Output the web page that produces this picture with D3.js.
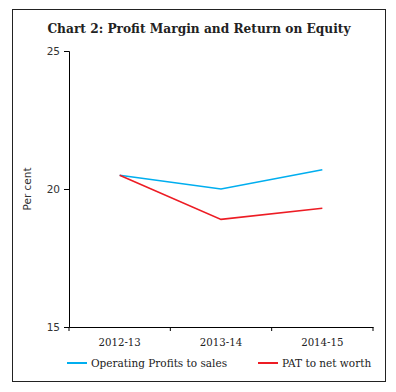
<!DOCTYPE html>
<html><head><meta charset="utf-8">
<script src="https://cdn.jsdelivr.net/npm/d3@7"></script>
<style>body{margin:0;background:#fff;}svg{display:block;}</style>
</head><body>
<script>
const categories = ["2012-13", "2013-14", "2014-15"];
const opProfits = [20.5, 20.0, 20.7];
const patNetWorth = [20.5, 18.9, 19.3];
const yTicks = [15, 20, 25];
const seriesNames = ["Operating Profits to sales", "PAT to net worth"];
const colors = ["#00AEEF", "#ED1C24"];

const W = 396, H = 392;
const svg = d3.select("body").append("svg").attr("width", W).attr("height", H);
svg.append("rect").attr("x", 12.5).attr("y", 9.5).attr("width", 373).attr("height", 372)
  .attr("fill", "none").attr("stroke", "#222").attr("stroke-width", 1);

svg.append("text").attr("x", 199).attr("y", 33).attr("text-anchor", "middle")
  .attr("font-family", "DejaVu Serif").attr("font-weight", "bold").attr("font-size", 12.2)
  .attr("fill", "#222").text("Chart 2: Profit Margin and Return on Equity");

const x = d3.scaleBand().domain(categories).range([69, 373]);
const y = d3.scaleLinear().domain([15, 25]).range([327, 51]);

const yAxis = svg.append("g").attr("transform", "translate(69,0)")
  .call(d3.axisLeft(y).tickValues(yTicks).tickSize(5).tickPadding(4));
yAxis.selectAll("text").attr("font-family", "DejaVu Sans").attr("font-size", 10.5).attr("fill", "#333");
const xAxis = svg.append("g").attr("transform", "translate(0,327)")
  .call(d3.axisBottom(x).tickSize(0).tickPadding(12));
xAxis.selectAll("text").attr("font-family", "DejaVu Serif").attr("font-size", 10.2).attr("fill", "#222");
// ticks at band boundaries
const bounds = [x.range()[0]].concat(categories.map(c => x(c) + x.bandwidth()));
xAxis.selectAll(".bt").data(bounds).enter().append("line")
  .attr("x1", d => d).attr("x2", d => d).attr("y1", 0).attr("y2", 4).attr("stroke", "#000");
svg.selectAll(".domain").attr("stroke", "#000");

svg.append("text").attr("transform", "translate(31,189) rotate(-90)").attr("text-anchor", "middle")
  .attr("font-family", "DejaVu Sans").attr("font-size", 10.5).attr("fill", "#333").text("Per cent");

const line = d3.line().x((d, i) => x(categories[i]) + x.bandwidth() / 2).y(d => y(d));
[opProfits, patNetWorth].forEach((s, k) => {
  svg.append("path").datum(s).attr("d", line).attr("fill", "none")
    .attr("stroke", colors[k]).attr("stroke-width", 1.6);
});

const legX = [67, 258];
seriesNames.forEach((n, k) => {
  svg.append("line").attr("x1", legX[k]).attr("x2", legX[k] + 20).attr("y1", 363).attr("y2", 363)
    .attr("stroke", colors[k]).attr("stroke-width", 2);
  svg.append("text").attr("x", legX[k] + 24).attr("y", 367).attr("font-family", "DejaVu Serif")
    .attr("font-size", 10.5).attr("fill", "#222").text(n);
});
</script>
</body></html>
